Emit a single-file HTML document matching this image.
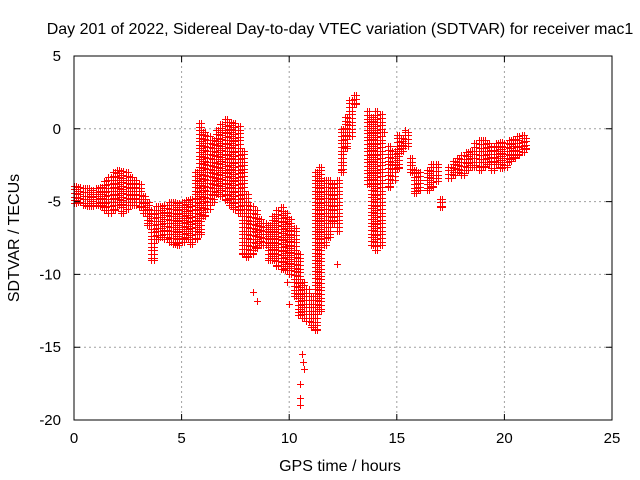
<!DOCTYPE html>
<html><head><meta charset="utf-8"><style>
html,body{margin:0;padding:0;background:#fff;}
svg{display:block;font-family:"Liberation Sans",sans-serif;}
</style></head><body>
<svg id="chart" width="640" height="480">
<rect width="640" height="480" fill="#fff"/>
<g id="grid"></g>
<g id="marks" shape-rendering="crispEdges"></g>
<rect x="74" y="56" width="538" height="364" fill="none" stroke="#000" stroke-width="1"/>
<g id="axes"></g>
<text x="340" y="34" text-anchor="middle" font-size="16">Day 201 of 2022, Sidereal Day-to-day VTEC variation (SDTVAR) for receiver mac1</text>
<text x="340" y="471" text-anchor="middle" font-size="16">GPS time / hours</text>
<text transform="translate(19,238) rotate(-90)" text-anchor="middle" font-size="16">SDTVAR / TECUs</text>
</svg>
<script>
const xTicks=[0,5,10,15,20,25];
const yTicks=[5,0,-5,-10,-15,-20];
const hours=[0,0.2,0.4,0.6,0.8,1.0,1.2,1.4,1.6,1.8,2.0,2.2,2.4,2.6,2.8,3.0,3.2,3.4,3.6,3.8,4.0,4.2,4.4,4.6,4.8,5.0,5.2,5.4,5.6,5.8,6.0,6.2,6.4,6.6,6.8,7.0,7.2,7.4,7.6,7.8,8.0,8.2,8.4,8.6,8.8,9.0,9.2,9.4,9.6,9.8,10.0,10.2,10.4,10.6,10.8,11.0,11.2,11.4,11.6,11.8,12.0,12.2,12.4,12.6,12.8,13.0,13.6,13.8,14.0,14.2,14.6,14.8,15.0,15.2,15.4,15.6,15.8,16.0,16.4,16.6,16.8,17.0,17.4,17.6,17.8,18.0,18.2,18.4,18.6,18.8,19.0,19.2,19.4,19.6,19.8,20.0,20.2,20.4,20.6,20.8,20.9];
const highVals=[-3.9,-4.0,-4.1,-4.1,-4.2,-4.1,-4.0,-3.6,-3.3,-3.0,-2.8,-2.9,-3.0,-3.3,-3.5,-3.8,-4.6,-5.0,-5.6,-5.3,-5.3,-5.2,-5.0,-5.0,-5.1,-5.0,-4.9,-4.8,-3.0,0.4,-0.2,-0.5,-0.8,-0.1,0.3,0.7,0.5,0.4,0.2,-1.5,-4.5,-5.3,-5.6,-6.2,-6.5,-6.6,-6.0,-5.6,-5.4,-5.8,-6.2,-6.8,-8.6,-10.5,-11.0,-11.5,-3.0,-2.6,-3.5,-3.5,-3.8,-3.5,0.0,0.8,2.0,2.3,1.2,0.8,1.2,1.0,-1.2,-1.5,-0.4,-0.6,-0.2,-2.0,-2.8,-3.0,-2.8,-2.4,-2.4,-4.8,-2.6,-2.2,-2.0,-1.8,-1.6,-1.5,-1.0,-0.8,-0.8,-1.0,-1.2,-1.0,-0.9,-1.0,-0.8,-0.7,-0.5,-0.4,-0.6];
const lowVals=[-5.1,-5.0,-5.2,-5.3,-5.3,-5.2,-5.3,-5.6,-5.8,-5.6,-5.2,-5.8,-5.5,-5.2,-5.2,-5.4,-5.8,-6.6,-9.0,-7.6,-7.4,-7.6,-7.8,-7.9,-8.0,-7.8,-7.6,-7.9,-7.6,-7.2,-6.0,-5.5,-5.0,-4.5,-4.6,-4.9,-5.2,-5.5,-5.8,-8.6,-8.8,-8.6,-8.2,-8.0,-8.0,-9.0,-9.0,-9.4,-9.6,-9.7,-10.0,-11.5,-12.8,-13.0,-13.2,-13.6,-13.8,-12.5,-8.0,-7.4,-6.5,-7.0,-3.0,-1.3,-0.5,1.7,-3.8,-8.0,-8.3,-8.0,-4.0,-3.5,-2.7,-1.5,-1.2,-3.0,-4.4,-4.2,-4.2,-4.0,-3.6,-5.4,-3.4,-3.2,-3.0,-3.2,-2.8,-2.6,-2.6,-2.8,-2.6,-2.4,-2.8,-2.4,-2.7,-2.6,-2.2,-2.0,-1.8,-1.6,-1.4];
const outlierHours=[8.5,8.3,10.5,10.5,10.5,10.6,10.7,10.65,12.2,12.4,14.4,15.4,9.9,10.0];
const outlierVals=[-11.8,-11.2,-17.5,-18.5,-19.0,-15.5,-16.5,-16.0,-9.3,-2.8,-0.2,-0.1,-10.5,-12.0];

const X0=74,X1=612,Y0=420,Y1=56;
const xs=t=>X0+(t-0)/(25-0)*(X1-X0);
const ys=v=>Y0-(v-(-20))/(5-(-20))*(Y0-Y1);
const NS="http://www.w3.org/2000/svg";
const grid=document.getElementById('grid'),axes=document.getElementById('axes'),marks=document.getElementById('marks');
function mk(tag,attrs,parent){const e=document.createElementNS(NS,tag);for(const k in attrs)e.setAttribute(k,attrs[k]);parent.appendChild(e);return e;}
xTicks.forEach(t=>{
  const x=xs(t);
  if(t>0&&t<25){const g=mk('line',{x1:x,x2:x,y1:Y1,y2:Y0,stroke:'#a0a0a0','stroke-dasharray':'2,3'},grid);
  
  }
  const tk=mk('path',{d:`M${x},${Y0}v-6M${x},${Y1}v6`,stroke:'#000'},axes);
  
  
  const l=mk('text',{x:x,y:443,'text-anchor':'middle','font-size':'15'},axes);l.textContent=t;
  
  
});
yTicks.forEach(v=>{
  const y=ys(v);
  if(v<5&&v>-20){const g=mk('line',{x1:X0,x2:X1,y1:y,y2:y,stroke:'#a0a0a0','stroke-dasharray':'2,3'},grid);
  
  }
  const tk=mk('path',{d:`M${X0},${y}h6M${X1},${y}h-6`,stroke:'#000'},axes);
  
  
  const l=mk('text',{x:61,y:y+5,'text-anchor':'end','font-size':'15'},axes);l.textContent=v;
  
  
});
function plus(x,y){x=Math.round(x);y=Math.round(y);return `M${x-3},${y}h7v1h-7zM${x},${y-3}h1v7h-1z`;}
hours.forEach((t,i)=>{
  let d='';
  const hi=highVals[i],lo=lowVals[i];
  for(const dt of [0,0.1]){
    for(let v=hi;v>=lo-0.001;v-=0.25){d+=plus(xs(t+dt),ys(v));}
    d+=plus(xs(t+dt),ys(lo));
  }
  const p=mk('path',{d:d,fill:'#ff0000','fill-rule':'nonzero'},marks);
  
  
});
outlierHours.forEach((t,i)=>{
  const p=mk('path',{d:plus(xs(t),ys(outlierVals[i])),fill:'#ff0000'},marks);
  
  
});
</script>
</body></html>
